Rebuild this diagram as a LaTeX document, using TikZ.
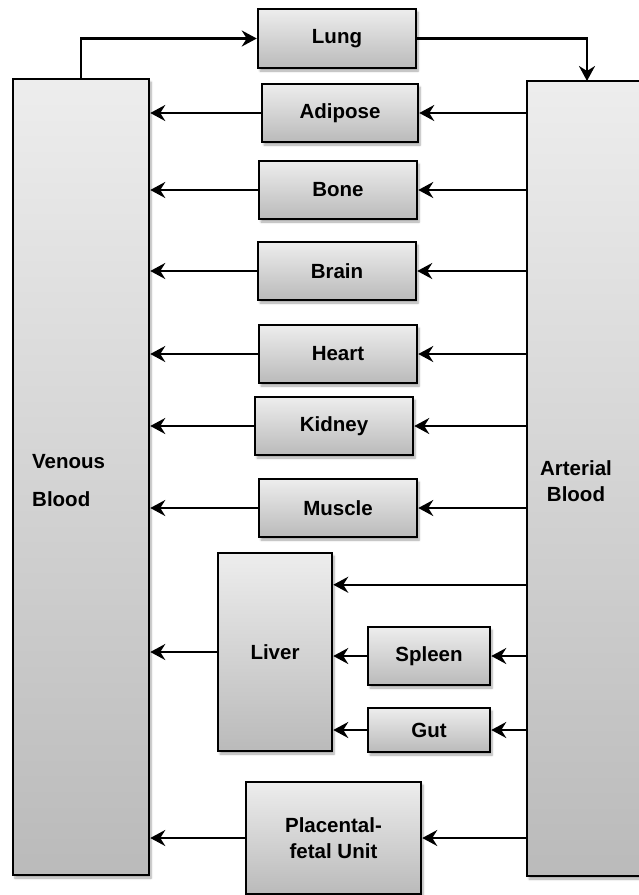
\documentclass[tikz,border=0pt]{standalone}
\usepackage{fontspec}
\setmainfont{Liberation Sans}
\usetikzlibrary{arrows.meta,shadows.blur,calc}
\begin{document}
\begin{tikzpicture}[x=1pt,y=-1pt,
  organ/.style={draw=black, line width=2.5pt, top color=black!7, bottom color=black!27,
    inner sep=0pt, font=\bfseries\fontsize{20.5}{26}\selectfont, align=center,
    blur shadow={shadow blur steps=6, shadow xshift=2pt, shadow yshift=-3pt, shadow opacity=35}},
  lbl/.style={inner sep=0pt, font=\bfseries\fontsize{20.5}{26}\selectfont},
  arr/.style={draw=black, line width=2.4pt, -{Stealth[length=15pt,width=16pt,inset=5pt]}}]
\useasboundingbox (0,0) rectangle (639,895);
\clip (0,0) rectangle (639,895);
% big blocks
\node[organ, minimum width=136, minimum height=796] (ven) at (81,477) {};
\node[organ, minimum width=193, minimum height=795] (art) at (623.5,478.5) {};
\node[lbl, align=left, anchor=west] (venlbl) at (32,481) {Venous\\[12pt]Blood};
\node[lbl, align=center] (artlbl) at (576,481) {Arterial\\Blood};
% organs
\node[organ, minimum width=158, minimum height=59] (lung) at (337,38.5) {Lung};
\node[organ, minimum width=156, minimum height=58] (adipose) at (340,113) {Adipose};
\node[organ, minimum width=158, minimum height=58] (bone) at (338,190) {Bone};
\node[organ, minimum width=158, minimum height=58] (brain) at (337,271) {Brain};
\node[organ, minimum width=158, minimum height=58] (heart) at (338,354) {Heart};
\node[organ, minimum width=158, minimum height=58] (kidney) at (334,426) {Kidney};
\node[organ, minimum width=158, minimum height=58] (muscle) at (338,508) {Muscle};
\node[organ, minimum width=114, minimum height=198] (liver) at (275,652) {Liver};
\node[organ, minimum width=122, minimum height=58] (spleen) at (429,656) {Spleen};
\node[organ, minimum width=122, minimum height=44] (gut) at (429,730) {Gut};
\node[organ, minimum width=175, minimum height=112] (plac) at (333.5,838) {Placental-\\fetal Unit};
% lung loop
\coordinate (artin) at (587,81);
\draw[arr] (ven.north) |- (lung.west);
\draw[arr] (lung.east) -| (artin);
% organ arrows
\foreach \o in {adipose,bone,brain,heart,kidney,muscle,plac}{
  \draw[arr] (art.west |- \o.east) -- (\o.east);
  \draw[arr] (\o.west) -- (ven.east |- \o.west);
}
\coordinate (lin) at ([yshift=-33pt]liver.north east);
\draw[arr] (art.west |- lin) -- (lin);
\draw[arr] (art.west |- spleen.east) -- (spleen.east);
\draw[arr] (art.west |- gut.east) -- (gut.east);
\draw[arr] (spleen.west) -- (spleen.west -| liver.east);
\draw[arr] (gut.west) -- (gut.west -| liver.east);
\draw[arr] (liver.west) -- (ven.east |- liver.west);
\end{tikzpicture}
\end{document}
